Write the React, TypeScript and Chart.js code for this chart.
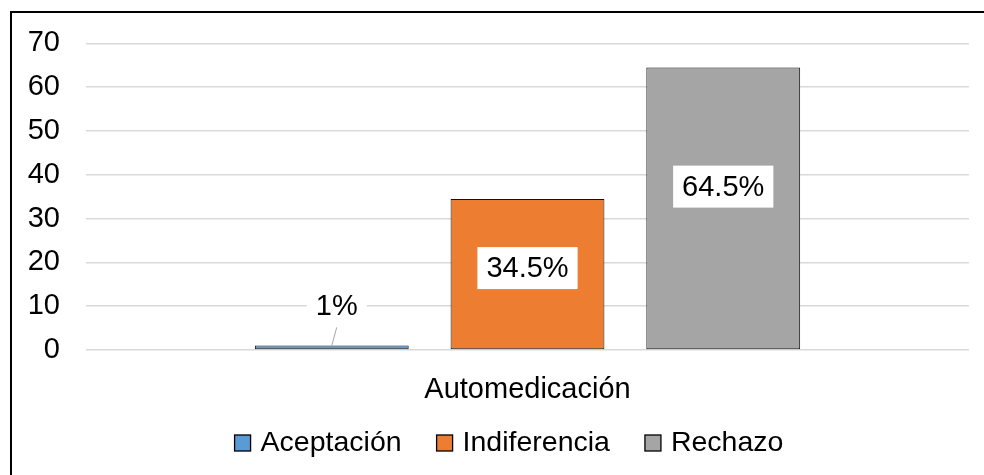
import React, { useEffect, useRef } from "react";
import { Chart, registerables } from "chart.js";

Chart.register(...registerables);

const categories = ["Automedicación"];
const seriesNames = ["Aceptación", "Indiferencia", "Rechazo"];
const seriesValues = [1, 34.5, 64.5];
const seriesLabels = ["1%", "34.5%", "64.5%"];
// value-axis position of the centre of each data label
const labelCenters = [10, 18.7, 37.3];
const seriesColors = ["#5B9BD5", "#ED7D31", "#A5A5A5"];
const yMin = 0;
const yMax = 70;
const yStep = 10;

const FONT = '"Liberation Sans", Arial, sans-serif';
const FS = 29;
const LEGEND_FS = 28.5;
const LEGEND_CENTER_X = 509;
const LEGEND_Y = 443;

const labelPlugin = {
  id: "dataLabels",
  afterDatasetsDraw(chart: any) {
    const ctx = chart.ctx;
    const y = chart.scales.y;
    ctx.save();
    ctx.font = `${FS}px ${FONT}`;
    ctx.textAlign = "center";
    ctx.textBaseline = "middle";
    chart.data.datasets.forEach((ds: any, i: number) => {
      const meta = chart.getDatasetMeta(i);
      const bar = meta.data[0];
      if (!bar) return;
      const outside = labelCenters[i] > seriesValues[i];
      const cx = bar.x + (outside ? 5 : 0);
      const cy = y.getPixelForValue(labelCenters[i]);
      const tw = ctx.measureText(seriesLabels[i]).width;
      const w = tw + 18;
      const h = 42;
      if (outside) {
        ctx.strokeStyle = "#a6a6a6";
        ctx.lineWidth = 1;
        ctx.beginPath();
        ctx.moveTo(cx, cy + h / 2);
        ctx.lineTo(bar.x, bar.y);
        ctx.stroke();
      }
      ctx.fillStyle = "#ffffff";
      ctx.fillRect(cx - w / 2, cy - h / 2, w, h);
      ctx.fillStyle = "#000000";
      ctx.fillText(seriesLabels[i], cx, cy + 1);
    });
    ctx.restore();
  },
};

const legendPlugin = {
  id: "customLegend",
  afterDraw(chart: any) {
    const ctx = chart.ctx;
    ctx.save();
    ctx.font = `${LEGEND_FS}px ${FONT}`;
    ctx.textBaseline = "middle";
    ctx.textAlign = "left";
    const box = 16;
    const gap = 9;
    const spacing = 35;
    const widths = seriesNames.map((n) => ctx.measureText(n).width);
    const total =
      widths.reduce((a, b) => a + b + box + 1 + gap, 0) + spacing * (seriesNames.length - 1);
    let x = LEGEND_CENTER_X - total / 2;
    seriesNames.forEach((n, i) => {
      ctx.fillStyle = seriesColors[i];
      ctx.fillRect(x, LEGEND_Y - box / 2, box, box);
      ctx.strokeStyle = "#000";
      ctx.lineWidth = 1.3;
      ctx.strokeRect(x, LEGEND_Y - box / 2, box, box);
      ctx.fillStyle = "#000";
      ctx.fillText(n, x + box + 1 + gap, LEGEND_Y);
      x += box + 1 + gap + widths[i] + spacing;
    });
    ctx.restore();
  },
};

const framePlugin = {
  id: "frame",
  beforeDraw(chart: any) {
    const ctx = chart.ctx;
    ctx.save();
    ctx.fillStyle = "#ffffff";
    ctx.fillRect(0, 0, chart.width, chart.height);
    ctx.restore();
  },
  afterDraw(chart: any) {
    const ctx = chart.ctx;
    ctx.save();
    ctx.fillStyle = "#000000";
    ctx.fillRect(10, 11, 2, chart.height - 11);
    ctx.fillRect(10, 11, chart.width - 10, 2);
    ctx.restore();
  },
};

export default function App() {
  const ref = useRef<HTMLCanvasElement | null>(null);

  useEffect(() => {
    if (!ref.current) return;
    const chart = new Chart(ref.current, {
      type: "bar",
      data: {
        labels: categories,
        datasets: seriesNames.map((name, i) => ({
          label: name,
          data: [seriesValues[i]],
          backgroundColor: seriesColors[i],
          borderColor: "#111111",
          borderWidth: 1,
          borderSkipped: false,
          categoryPercentage: 0.665,
          barPercentage: 0.786,
        })),
      },
      options: {
        animation: false,
        responsive: false,
        devicePixelRatio: 1,
        layout: { padding: { left: 0, right: 15, top: 42, bottom: 65 } },
        plugins: {
          legend: { display: false },
          tooltip: { enabled: false },
        },
        scales: {
          x: {
            grid: { display: false },
            border: { display: false },
            ticks: {
              color: "#000",
              font: { family: FONT, size: FS },
              padding: 15,
            },
            afterFit: (s: any) => {
              s.height = 60;
            },
          },
          y: {
            min: yMin,
            max: yMax,
            grid: { color: "#d9d9d9", lineWidth: 1.5, drawTicks: false },
            border: { display: false },
            ticks: {
              stepSize: yStep,
              color: "#000",
              font: { family: FONT, size: FS },
              padding: 26,
            },
            afterFit: (s: any) => {
              s.width = 86;
            },
          },
        },
      },
      plugins: [framePlugin, labelPlugin, legendPlugin],
    });
    return () => chart.destroy();
  }, []);

  return (
    <div style={{ position: "fixed", inset: 0, overflow: "hidden", background: "#fff" }}>
      <canvas ref={ref} width={984} height={475} style={{ display: "block", width: 984, height: 475 }} />
    </div>
  );
}
